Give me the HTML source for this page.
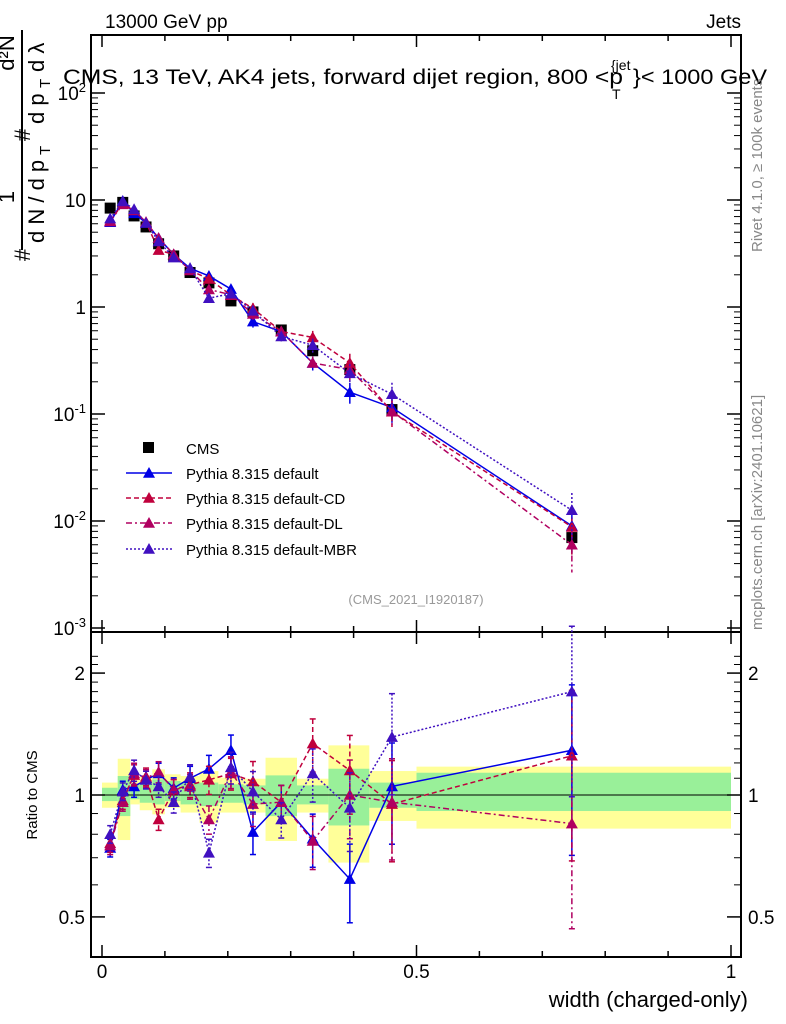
<!DOCTYPE html>
<html><head><meta charset="utf-8"><style>
body{margin:0;background:#fff;}
svg{display:block;font-family:"Liberation Sans",sans-serif;}
</style></head><body>
<svg id="c" width="786" height="1024" viewBox="0 0 786 1024">
<g id="bands"></g>
<g id="axes"></g>
<g id="series"></g>
<text x="105" y="28" font-size="19">13000 GeV pp</text>
<text x="741" y="28" font-size="19" text-anchor="end">Jets</text>
<g>
<text x="63" y="84" font-size="21" textLength="560" lengthAdjust="spacingAndGlyphs">CMS, 13 TeV, AK4 jets, forward dijet region, 800 &lt;p</text>
<text x="612" y="99" font-size="14">T</text>
<text x="611" y="70" font-size="14">{jet</text>
<text x="633" y="84" font-size="21" textLength="134" lengthAdjust="spacingAndGlyphs">}&lt; 1000 GeV</text>
</g>
<text x="416" y="604" font-size="13" fill="#999" text-anchor="middle">(CMS_2021_I1920187)</text>
<text transform="translate(762,252) rotate(-90)" font-size="15" fill="#888">Rivet 4.1.0, ≥ 100k events</text>
<text transform="translate(762,630) rotate(-90)" font-size="15" fill="#888">mcplots.cern.ch [arXiv:2401.10621]</text>
<g transform="rotate(-90)" font-size="22">
<line x1="-250" x2="-30" y1="22" y2="22" stroke="#000" stroke-width="2"/>
<text x="-255" y="30" text-anchor="middle">#</text>
<text x="-243" y="44">d N / d p</text>
<text x="-155" y="50" font-size="15">T</text>
<text x="-197" y="14" text-anchor="middle">1</text>
<text x="-135" y="30" text-anchor="middle">#</text>
<text x="-124" y="44">d p</text>
<text x="-88" y="50" font-size="15">T</text>
<text x="-72" y="44">d λ</text>
<text x="-53" y="14" text-anchor="middle">d²N</text>
</g>
<text transform="translate(37,795) rotate(-90)" font-size="15" text-anchor="middle">Ratio to CMS</text>
<text x="748" y="1007" font-size="22" text-anchor="end">width (charged-only)</text>
<g id="legend"></g>
</svg>
<script>
const xs=[0.013,0.033,0.051,0.07,0.09,0.114,0.14,0.17,0.205,0.24,0.285,0.335,0.394,0.461,0.747];
const edges=[0,0.025,0.045,0.06,0.08,0.1,0.125,0.155,0.185,0.225,0.26,0.31,0.36,0.425,0.5,1];
const cms=[8.4,9.5,7.1,5.6,3.9,3.0,2.1,1.68,1.14,0.9,0.61,0.39,0.26,0.11,0.007];
const def=[6.2,9.8,7.5,6.1,4.4,3.1,2.3,1.95,1.47,0.73,0.59,0.30,0.16,0.115,0.009];
const defCD=[6.4,9.2,8.0,6.2,3.4,3.1,2.2,1.83,1.29,0.97,0.59,0.52,0.30,0.105,0.0088];
const defDL=[6.3,9.1,8.0,6.2,4.4,3.1,2.2,1.46,1.30,0.86,0.59,0.30,0.26,0.106,0.006];
const defMBR=[6.7,9.7,8.2,6.1,4.1,2.9,2.3,1.21,1.33,0.92,0.53,0.44,0.24,0.153,0.0126];
const rDef=[0.74,1.03,1.05,1.09,1.13,1.04,1.10,1.16,1.29,0.81,0.96,0.78,0.62,1.05,1.29];
const rCD=[0.76,0.97,1.12,1.11,0.87,1.03,1.06,1.09,1.13,1.08,0.96,1.34,1.15,0.95,1.25];
const rDL=[0.75,0.96,1.13,1.10,1.14,1.03,1.05,0.87,1.14,0.95,0.96,0.77,1.0,0.96,0.85];
const rMBR=[0.80,1.02,1.15,1.09,1.05,0.96,1.11,0.72,1.17,1.02,0.87,1.13,0.93,1.39,1.80];
const relErr=[0.05,0.05,0.06,0.05,0.06,0.06,0.07,0.08,0.09,0.12,0.1,0.15,0.22,0.28,0.45];
const yelHi=[1.073,1.229,1.093,1.114,1.157,1.125,1.114,1.146,1.104,1.097,1.236,1.097,1.326,1.146,1.175];
const yelLo=[0.930,0.774,0.948,0.917,0.896,0.930,0.905,0.854,0.905,0.905,0.770,0.905,0.681,0.863,0.826];
const grnHi=[1.042,1.114,1.063,1.073,1.093,1.083,1.073,1.073,1.063,1.056,1.118,1.056,1.161,1.073,1.135];
const grnLo=[0.966,0.887,0.976,0.957,0.948,0.966,0.948,0.939,0.957,0.948,0.887,0.948,0.841,0.930,0.913];
const mainTicks=[-3,-2,-1,0,1,2];
const ratioTicks=[0.5,1,2];
const xTicks=[0,0.5,1];

const NS="http://www.w3.org/2000/svg";
const L=91,R=741,T=35,M=632,B=957;
const X=v=>102+v*629;
const Y=v=>307-Math.log10(v)*107;
const YR=v=>795-Math.log10(v)*405;
function mk(tag,at,par){const e=document.createElementNS(NS,tag);for(const k in at)e.setAttribute(k,at[k]);par.appendChild(e);return e;}
const axes=document.getElementById('axes'),bands=document.getElementById('bands'),ser=document.getElementById('series'),leg=document.getElementById('legend');

for(let i=0;i<yelHi.length;i++){
 let r=mk('rect',{x:X(edges[i]),y:YR(yelHi[i]),width:X(edges[i+1])-X(edges[i]),height:YR(yelLo[i])-YR(yelHi[i]),fill:'#ffff99'},bands);
 
 
 let g=mk('rect',{x:X(edges[i]),y:YR(grnHi[i]),width:X(edges[i+1])-X(edges[i]),height:YR(grnLo[i])-YR(grnHi[i]),fill:'#99f099'},bands);
 
 
}
mk('line',{x1:L,x2:R,y1:YR(1),y2:YR(1),stroke:'#000','stroke-width':1},axes);
mk('rect',{x:L,y:T,width:R-L,height:M-T,fill:'none',stroke:'#000','stroke-width':2},axes);
mk('rect',{x:L,y:M,width:R-L,height:B-M,fill:'none',stroke:'#000','stroke-width':2},axes);
for(let v=0;v<=1.0001;v+=0.1){const big=Math.abs(v*2-Math.round(v*2))<1e-6;const len=big?12:6;
 [[T,1],[M,-1],[M,1],[B,-1]].forEach(([y,d])=>mk('line',{x1:X(v),x2:X(v),y1:y,y2:y+d*len,stroke:'#000','stroke-width':1.5},axes));}
for(const v of xTicks){const t=mk('text',{x:X(v),y:978,'font-size':19,'text-anchor':'middle'},axes);t.textContent=String(v);
 
 }
for(const p of mainTicks){const y=Y(Math.pow(10,p));
 mk('line',{x1:L,x2:L+14,y1:y,y2:y,stroke:'#000','stroke-width':1.5},axes);mk('line',{x1:R,x2:R-14,y1:y,y2:y,stroke:'#000','stroke-width':1.5},axes);
 if(p<2)for(let m=2;m<10;m++){const ym=Y(m*Math.pow(10,p));if(ym<T)continue;mk('line',{x1:L,x2:L+7,y1:ym,y2:ym,stroke:'#000'},axes);mk('line',{x1:R,x2:R-7,y1:ym,y2:ym,stroke:'#000'},axes);}
 const t=mk('text',{x:86,y:y+7,'font-size':19,'text-anchor':'end'},axes);
 
 
 if(p===0)t.textContent='1';else if(p===1)t.textContent='10';else{t.textContent='10';const s=mk('tspan',{dy:-8,'font-size':13},t);s.textContent=String(p);}
}
for(const v of ratioTicks){const y=YR(v);
 mk('line',{x1:L,x2:L+14,y1:y,y2:y,stroke:'#000','stroke-width':1.5},axes);mk('line',{x1:R,x2:R-14,y1:y,y2:y,stroke:'#000','stroke-width':1.5},axes);
 const t=mk('text',{x:85,y:y+7,'font-size':19,'text-anchor':'end'},axes);t.textContent=String(v);
 
 
 const t2=mk('text',{x:748,y:y+7,'font-size':19},axes);t2.textContent=String(v);
 
 }
for(let v=0.5;v<=2.3;v+=0.1){if([0.5,1,2].some(u=>Math.abs(u-v)<1e-6))continue;const y=YR(v);if(y<M)continue;
 mk('line',{x1:L,x2:L+7,y1:y,y2:y,stroke:'#000'},axes);mk('line',{x1:R,x2:R-7,y1:y,y2:y,stroke:'#000'},axes);}

function tri(g,x,y,c,s){mk('path',{d:`M${x} ${y-s} L${x+s} ${y+s*0.8} L${x-s} ${y+s*0.8}Z`,fill:c},g);}
const styles=[
 {name:'Pythia 8.315 default',main:def,ratio:rDef,c:'#0000e6',dash:'',key:'default'},
 {name:'Pythia 8.315 default-CD',main:defCD,ratio:rCD,c:'#c0003c',dash:'5 3',key:'cd'},
 {name:'Pythia 8.315 default-DL',main:defDL,ratio:rDL,c:'#b00060',dash:'6 3 2 3',key:'dl'},
 {name:'Pythia 8.315 default-MBR',main:defMBR,ratio:rMBR,c:'#4010c0',dash:'2 2',key:'mbr'}];
const gd=mk('g',{},ser);


xs.forEach((x,i)=>{mk('rect',{x:X(x)-5.5,y:Y(cms[i])-5.5,width:11,height:11,fill:'#000'},gd);});
styles.forEach(s=>{
 const g=mk('g',{},ser);
 
 
 mk('polyline',{points:xs.map((x,i)=>X(x)+','+Y(s.main[i])).join(' '),fill:'none',stroke:s.c,'stroke-width':1.5,'stroke-dasharray':s.dash},g);
 mk('polyline',{points:xs.map((x,i)=>X(x)+','+YR(s.ratio[i])).join(' '),fill:'none',stroke:s.c,'stroke-width':1.5,'stroke-dasharray':s.dash},g);
 xs.forEach((x,i)=>{
  const e=relErr[i];
  mk('line',{x1:X(x),x2:X(x),y1:Y(s.main[i]*(1+e)),y2:Y(s.main[i]*(1-e)),stroke:s.c,'stroke-width':1.5,'stroke-dasharray':s.dash},g);
  mk('line',{x1:X(x),x2:X(x),y1:YR(s.ratio[i]+e*s.ratio[i]),y2:YR(s.ratio[i]-e*s.ratio[i]),stroke:s.c,'stroke-width':1.5,'stroke-dasharray':s.dash},g);
  [s.ratio[i]*(1+e),s.ratio[i]*(1-e)].forEach(v=>mk('line',{x1:X(x)-3,x2:X(x)+3,y1:YR(v),y2:YR(v),stroke:s.c,'stroke-width':1.5},g));
  tri(g,X(x),Y(s.main[i]),s.c,6);tri(g,X(x),YR(s.ratio[i]),s.c,6);
 });
});
const ly=[448,473,498,523,549];
let e0=mk('g',{},leg);


mk('rect',{x:143,y:ly[0]-6,width:11,height:11,fill:'#000'},e0);
let t0=mk('text',{x:186,y:ly[0]+6,'font-size':15},e0);t0.textContent='CMS';
styles.forEach((s,k)=>{const g=mk('g',{},leg);
 
 
 const y=ly[k+1];mk('line',{x1:126,x2:172,y1:y,y2:y,stroke:s.c,'stroke-width':1.5,'stroke-dasharray':s.dash},g);
 tri(g,149,y,s.c,6);const t=mk('text',{x:186,y:y+6,'font-size':15},g);t.textContent=s.name;});
</script>
</body></html>
